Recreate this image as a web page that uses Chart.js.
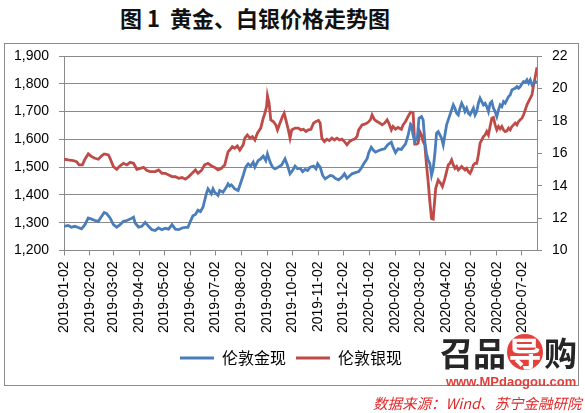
<!DOCTYPE html>
<html>
<head>
<meta charset="utf-8">
<script src="https://cdn.jsdelivr.net/npm/chart.js@4.4.1/dist/chart.umd.min.js"></script>
<style>
  html, body { margin: 0; padding: 0; background: #fff; }
  body { width: 585px; height: 413px; position: relative; overflow: hidden; font-family: 'Noto Sans CJK SC', sans-serif; }
  #title { position: absolute; left: 0; top: 2px; width: 510px; text-align: center; white-space: pre; font-size: 22px; font-weight: bold; color: #111; line-height: 30px; }
  #frame { position: absolute; left: 4px; top: 43px; width: 573px; height: 341px; border: 1px solid #8c8c8c; }
  #chart { position: absolute; left: 0; top: 0; }
  #logo { position: absolute; left: 440px; top: 332px; font-size: 33px; font-weight: bold; color: #262626; line-height: 40px; white-space: nowrap; }
  #logo .dao { display: inline-block; width: 36px; height: 36px; line-height: 36px; border-radius: 50%; background: #e5403c; color: #fff; text-align: center; margin: 0 1px; }
  #site { position: absolute; left: 446px; top: 374px; font: bold 13px 'Liberation Sans', sans-serif; color: #e0403c; }
  #source { position: absolute; left: 373px; top: 392px; font-size: 14.5px; font-style: italic; color: #e0282a; white-space: nowrap; }
</style>
</head>
<body>
<div id="title">图 1  黄金、白银价格走势图</div>
<div id="frame"></div>
<canvas id="chart" width="585" height="413"></canvas>
<div id="logo">召品<span class="dao">导</span>购</div>
<div id="site">www.MPdaogou.com</div>
<div id="source">数据来源：Wind、苏宁金融研院</div>

<script>
// Month tick labels on the date axis
const monthTicks = [
    '2019-01-02', '2019-02-02', '2019-03-02', '2019-04-02', '2019-05-02', '2019-06-02',
    '2019-07-02', '2019-08-02', '2019-09-02', '2019-10-02', '2019-11-02', '2019-12-02',
    '2020-01-02', '2020-02-02', '2020-03-02', '2020-04-02', '2020-05-02', '2020-06-02', '2020-07-02'
];

// London gold spot (USD/oz), left axis
const goldDates = [
    '2019-01-02', '2019-01-07', '2019-01-11', '2019-01-15', '2019-01-19', '2019-01-23', '2019-01-27', '2019-01-31',
    '2019-02-04', '2019-02-08', '2019-02-12', '2019-02-16', '2019-02-19', '2019-02-22', '2019-02-26',
    '2019-03-02', '2019-03-06', '2019-03-10', '2019-03-14', '2019-03-18', '2019-03-22', '2019-03-26', '2019-03-28',
    '2019-04-01', '2019-04-05', '2019-04-09', '2019-04-13', '2019-04-17', '2019-04-21', '2019-04-25', '2019-04-29',
    '2019-05-03', '2019-05-07', '2019-05-11', '2019-05-15', '2019-05-19', '2019-05-23', '2019-05-27', '2019-05-30',
    '2019-06-02', '2019-06-05', '2019-06-08', '2019-06-11', '2019-06-14', '2019-06-17', '2019-06-21', '2019-06-23', '2019-06-27', '2019-06-29',
    '2019-07-01', '2019-07-05', '2019-07-07', '2019-07-11', '2019-07-15', '2019-07-17', '2019-07-19', '2019-07-21', '2019-07-25', '2019-07-29', '2019-07-31',
    '2019-08-04', '2019-08-07', '2019-08-10', '2019-08-13', '2019-08-16', '2019-08-18', '2019-08-22', '2019-08-25', '2019-08-28', '2019-08-31',
    '2019-09-02', '2019-09-05', '2019-09-08', '2019-09-11', '2019-09-15', '2019-09-19', '2019-09-23', '2019-09-26', '2019-09-29',
    '2019-10-02', '2019-10-05', '2019-10-08', '2019-10-11', '2019-10-14', '2019-10-17', '2019-10-20', '2019-10-23', '2019-10-27', '2019-10-30',
    '2019-11-01', '2019-11-04', '2019-11-07', '2019-11-10', '2019-11-13', '2019-11-16', '2019-11-19', '2019-11-22', '2019-11-26', '2019-11-30',
    '2019-12-03', '2019-12-06', '2019-12-09', '2019-12-12', '2019-12-16', '2019-12-20', '2019-12-23', '2019-12-26', '2019-12-30',
    '2020-01-01', '2020-01-04', '2020-01-07', '2020-01-09', '2020-01-13', '2020-01-17', '2020-01-20', '2020-01-23', '2020-01-25', '2020-01-28', '2020-01-30',
    '2020-02-02', '2020-02-05', '2020-02-09', '2020-02-11', '2020-02-14', '2020-02-17', '2020-02-20', '2020-02-21', '2020-02-23', '2020-02-25', '2020-02-28',
    '2020-03-01', '2020-03-04', '2020-03-06', '2020-03-08', '2020-03-10', '2020-03-12', '2020-03-14', '2020-03-16', '2020-03-18', '2020-03-20', '2020-03-22', '2020-03-24', '2020-03-26', '2020-03-28', '2020-03-30',
    '2020-04-01', '2020-04-03', '2020-04-05', '2020-04-07', '2020-04-09', '2020-04-11', '2020-04-13', '2020-04-15', '2020-04-17', '2020-04-19', '2020-04-21', '2020-04-23', '2020-04-25', '2020-04-27', '2020-04-29',
    '2020-05-01', '2020-05-03', '2020-05-05', '2020-05-07', '2020-05-09', '2020-05-11', '2020-05-13', '2020-05-15', '2020-05-17', '2020-05-19', '2020-05-21', '2020-05-23', '2020-05-25', '2020-05-27', '2020-05-29', '2020-05-31',
    '2020-06-02', '2020-06-04', '2020-06-06', '2020-06-08', '2020-06-10', '2020-06-12', '2020-06-14', '2020-06-16', '2020-06-18', '2020-06-20', '2020-06-22', '2020-06-24', '2020-06-26', '2020-06-28', '2020-06-30',
    '2020-07-02', '2020-07-04', '2020-07-06', '2020-07-08', '2020-07-10', '2020-07-12', '2020-07-14', '2020-07-16', '2020-07-18', '2020-07-20'
];
const goldPrices = [
    1287, 1290, 1284, 1287, 1283, 1278, 1293, 1317,
    1313, 1308, 1305, 1323, 1337, 1333, 1317,
    1293, 1284, 1293, 1305, 1308, 1313, 1320, 1299,
    1284, 1287, 1301, 1287, 1275, 1272, 1281, 1275,
    1280, 1277, 1293, 1277, 1275, 1281, 1283, 1283,
    1305, 1325, 1330, 1345, 1340, 1356, 1404, 1422, 1404, 1422,
    1410, 1398, 1416, 1410, 1428, 1440, 1432, 1436, 1422, 1416, 1434,
    1470, 1500, 1512, 1504, 1518, 1500, 1524, 1530, 1540, 1524,
    1548, 1520, 1500, 1494, 1500, 1508, 1530, 1506, 1476,
    1488, 1504, 1494, 1496, 1484, 1492, 1488, 1500, 1504, 1494,
    1512, 1500, 1470, 1458, 1464, 1470, 1468, 1460, 1454, 1464,
    1476, 1460, 1468, 1476, 1480, 1484, 1496, 1512, 1530,
    1552, 1572, 1560, 1554, 1560, 1564, 1566, 1578, 1584, 1590, 1572,
    1552, 1566, 1564, 1572, 1584, 1614, 1655, 1652, 1616, 1592, 1604,
    1676, 1682, 1670, 1592, 1549, 1525, 1513, 1471, 1495, 1549, 1622, 1628, 1616, 1604, 1580,
    1616, 1652, 1670, 1688, 1706, 1724, 1712, 1694, 1688, 1712, 1730, 1718, 1700, 1712, 1694,
    1688, 1700, 1712, 1688, 1700, 1730, 1748, 1736, 1724, 1730, 1718, 1700, 1730, 1736, 1712, 1700,
    1682, 1706, 1724, 1718, 1736, 1730, 1742, 1754, 1760, 1778, 1781, 1784, 1790, 1784, 1790,
    1800, 1808, 1805, 1814, 1802, 1814, 1796, 1802, 1808, 1806
];

// London silver spot (USD/oz), right axis
const silverDates = [
    '2019-01-02', '2019-01-07', '2019-01-13', '2019-01-17', '2019-01-20', '2019-01-24', '2019-01-27', '2019-01-31',
    '2019-02-04', '2019-02-08', '2019-02-12', '2019-02-16', '2019-02-19', '2019-02-24', '2019-02-26',
    '2019-03-02', '2019-03-06', '2019-03-10', '2019-03-14', '2019-03-18', '2019-03-22', '2019-03-26', '2019-03-30',
    '2019-04-03', '2019-04-07', '2019-04-11', '2019-04-15', '2019-04-21', '2019-04-25', '2019-04-29',
    '2019-05-03', '2019-05-07', '2019-05-11', '2019-05-15', '2019-05-19', '2019-05-23', '2019-05-27', '2019-05-31',
    '2019-06-04', '2019-06-08', '2019-06-11', '2019-06-15', '2019-06-19', '2019-06-23', '2019-06-27',
    '2019-07-01', '2019-07-05', '2019-07-09', '2019-07-13', '2019-07-17', '2019-07-19', '2019-07-22', '2019-07-25', '2019-07-28', '2019-07-31',
    '2019-08-04', '2019-08-06', '2019-08-09', '2019-08-12', '2019-08-15', '2019-08-18', '2019-08-21', '2019-08-25', '2019-08-28', '2019-08-30',
    '2019-09-01', '2019-09-02', '2019-09-04', '2019-09-06', '2019-09-09', '2019-09-12', '2019-09-14', '2019-09-17', '2019-09-20', '2019-09-22', '2019-09-25', '2019-09-27', '2019-09-29',
    '2019-10-01', '2019-10-05', '2019-10-09', '2019-10-12', '2019-10-15', '2019-10-18', '2019-10-21', '2019-10-24', '2019-10-27', '2019-10-30',
    '2019-11-02', '2019-11-04', '2019-11-06', '2019-11-09', '2019-11-12', '2019-11-15', '2019-11-18', '2019-11-21', '2019-11-24', '2019-11-27', '2019-11-30',
    '2019-12-03', '2019-12-06', '2019-12-09', '2019-12-12', '2019-12-15', '2019-12-18', '2019-12-20', '2019-12-24', '2019-12-28', '2019-12-31',
    '2020-01-03', '2020-01-05', '2020-01-08', '2020-01-11', '2020-01-13', '2020-01-17', '2020-01-20', '2020-01-23', '2020-01-25', '2020-01-28', '2020-01-30',
    '2020-02-02', '2020-02-05', '2020-02-09', '2020-02-11', '2020-02-14', '2020-02-17', '2020-02-20', '2020-02-23', '2020-02-25', '2020-02-27', '2020-02-29',
    '2020-03-02', '2020-03-04', '2020-03-06', '2020-03-08', '2020-03-10', '2020-03-12', '2020-03-14', '2020-03-16', '2020-03-18', '2020-03-19', '2020-03-21', '2020-03-24', '2020-03-27', '2020-03-29',
    '2020-04-01', '2020-04-03', '2020-04-05', '2020-04-07', '2020-04-09', '2020-04-11', '2020-04-13', '2020-04-15', '2020-04-17', '2020-04-19', '2020-04-21', '2020-04-23', '2020-04-25', '2020-04-27', '2020-04-29',
    '2020-05-01', '2020-05-03', '2020-05-05', '2020-05-07', '2020-05-09', '2020-05-11', '2020-05-13', '2020-05-15', '2020-05-17', '2020-05-19', '2020-05-21', '2020-05-23', '2020-05-25', '2020-05-27', '2020-05-29', '2020-05-31',
    '2020-06-02', '2020-06-04', '2020-06-06', '2020-06-08', '2020-06-10', '2020-06-12', '2020-06-14', '2020-06-16', '2020-06-18', '2020-06-20', '2020-06-22', '2020-06-24', '2020-06-26', '2020-06-28', '2020-06-30',
    '2020-07-02', '2020-07-04', '2020-07-06', '2020-07-08', '2020-07-10', '2020-07-12', '2020-07-14', '2020-07-16', '2020-07-18', '2020-07-20'
];
const silverPrices = [
    15.63, 15.59, 15.55, 15.48, 15.28, 15.28, 15.63, 15.96,
    15.79, 15.69, 15.63, 15.84, 15.96, 15.90, 15.69,
    15.18, 15.01, 15.22, 15.38, 15.28, 15.44, 15.38, 15.01,
    15.07, 15.13, 14.93, 14.87, 14.87, 14.97, 14.76,
    14.76, 14.66, 14.56, 14.55, 14.45, 14.50, 14.40, 14.56,
    14.76, 14.97, 14.76, 14.93, 15.28, 15.38, 15.22,
    15.13, 14.97, 15.07, 15.28, 16.10, 16.20, 16.41, 16.31, 16.45, 16.20,
    16.52, 16.93, 17.13, 16.93, 17.03, 16.82, 17.24, 17.55, 18.16, 18.47,
    18.89, 19.55, 19.09, 18.06, 17.96, 17.75, 17.44, 17.86, 18.27, 18.47, 17.86, 17.44, 16.93,
    17.44, 17.55, 17.55, 17.44, 17.48, 17.34, 17.44, 17.48, 17.86, 17.96,
    18.02, 17.86, 16.93, 16.72, 16.87, 16.78, 16.93, 16.82, 16.93, 16.82, 16.87,
    16.72, 16.52, 16.72, 16.82, 16.87, 17.03, 17.44, 17.75, 17.81, 17.90,
    18.06, 18.37, 18.06, 17.96, 17.90, 17.75, 17.86, 18.06, 17.86, 17.44, 17.65,
    17.48, 17.59, 17.48, 17.75, 17.96, 18.27, 18.54, 18.50, 16.56, 16.56, 16.62,
    17.34, 17.13, 16.72, 16.52, 15.28, 14.25, 13.01, 11.98, 11.94, 12.60, 13.84, 14.35, 14.14, 13.94,
    14.45, 14.87, 15.28, 15.38, 15.59, 15.28, 15.07, 15.18, 14.97, 15.07, 15.18, 15.07, 14.97, 15.07, 14.87,
    14.76, 14.97, 15.28, 15.38, 15.38, 15.90, 16.62, 16.82, 17.03, 17.13, 17.34, 17.13, 17.65, 18.16, 18.21, 17.75,
    17.44, 17.65, 17.51, 17.65, 17.44, 17.34, 17.38, 17.55, 17.44, 17.65, 17.75, 17.86, 17.75, 17.96, 18.06,
    18.16, 18.37, 18.68, 18.99, 19.20, 19.40, 19.60, 20.23, 20.74, 21.30
];

const FONT = "'Liberation Sans', Arial, sans-serif";
const GRID = '#8a8a8a';
const START = Date.UTC(2019, 0, 2);

// days since the first date, so the axis spaces dates like a calendar
function dayOf(s) {
    return (Date.parse(s) - START) / 86400000;
}

function toPoints(dates, values) {
    return dates.map((d, i) => ({ x: dayOf(d), y: values[i] }));
}

function withCommas(v) {
    return String(v).replace(/\B(?=(\d{3})+(?!\d))/g, ',');
}

const tickDays = monthTicks.map(dayOf);
const lastDay = dayOf(goldDates[goldDates.length - 1]);

Chart.defaults.color = '#000';

new Chart(document.getElementById('chart'), {
    type: 'line',
    data: {
        datasets: [{
            label: '伦敦金现',
            data: toPoints(goldDates, goldPrices),
            yAxisID: 'y',
            borderColor: '#4A7EBB',
            backgroundColor: '#4A7EBB',
            borderWidth: 2.8,
            pointRadius: 0,
            tension: 0
        }, {
            label: '伦敦银现',
            data: toPoints(silverDates, silverPrices),
            yAxisID: 'y1',
            borderColor: '#BE4B48',
            backgroundColor: '#BE4B48',
            borderWidth: 2.8,
            pointRadius: 0,
            tension: 0
        }]
    },
    options: {
        responsive: false,
        animation: false,
        devicePixelRatio: 1,
        layout: { padding: { left: 4, right: 7, top: 56, bottom: 37 } },
        plugins: {
            tooltip: { enabled: false },
            legend: {
                position: 'bottom',
                labels: {
                    boxWidth: 34,
                    boxHeight: 3,
                    padding: 10,
                    color: '#000',
                    font: { family: "'Noto Sans CJK SC', sans-serif", size: 16 },
                    generateLabels: function(chart) {
                        return Chart.defaults.plugins.legend.labels.generateLabels(chart)
                            .map(item => Object.assign(item, { lineWidth: 0 }));
                    }
                }
            }
        },
        scales: {
            x: {
                type: 'linear',
                min: 0,
                max: lastDay,
                afterBuildTicks: function(scale) {
                    scale.ticks = tickDays.map(v => ({ value: v }));
                },
                afterFit: function(scale) {
                    scale.height = 89.5;
                },
                ticks: {
                    autoSkip: false,
                    minRotation: 90,
                    maxRotation: 90,
                    padding: 6,
                    font: { family: FONT, size: 14 },
                    callback: function(value) {
                        const i = tickDays.indexOf(value);
                        return i >= 0 ? monthTicks[i] : '';
                    }
                },
                grid: { drawOnChartArea: false, tickLength: 5, color: GRID },
                border: { color: GRID }
            },
            y: {
                position: 'left',
                min: 1200,
                max: 1900,
                afterFit: function(scale) {
                    scale.width = 60;
                },
                ticks: {
                    stepSize: 100,
                    padding: 10,
                    font: { family: FONT, size: 14 },
                    callback: v => withCommas(v)
                },
                grid: { color: GRID, tickLength: 5 },
                border: { color: GRID }
            },
            y1: {
                position: 'right',
                min: 10,
                max: 22,
                afterFit: function(scale) {
                    scale.width = 41;
                },
                ticks: {
                    stepSize: 2,
                    padding: 10,
                    font: { family: FONT, size: 14 }
                },
                grid: { drawOnChartArea: false, tickLength: 5, color: GRID },
                border: { color: GRID }
            }
        }
    }
});
</script>
</body>
</html>
